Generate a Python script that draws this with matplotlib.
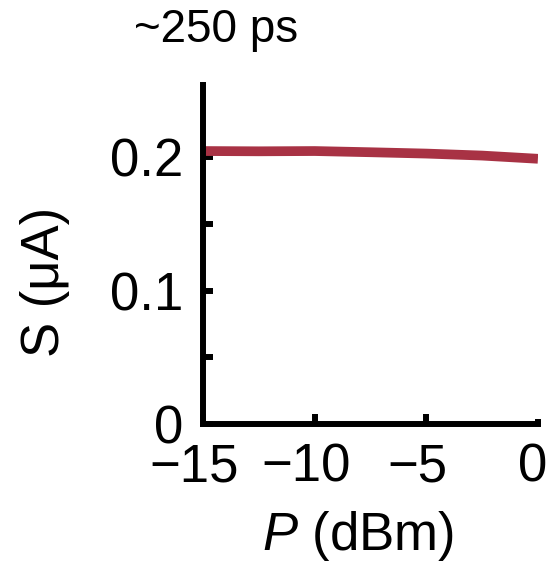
import matplotlib
matplotlib.use("Agg")
import matplotlib.pyplot as plt
from matplotlib.ticker import FixedLocator
from matplotlib.transforms import ScaledTranslation

plt.rcParams['font.family'] = ['Liberation Sans', 'DejaVu Sans']
plt.rcParams['mathtext.fontset'] = 'custom'
plt.rcParams['mathtext.it'] = 'Liberation Sans:italic'
plt.rcParams['mathtext.rm'] = 'Liberation Sans'

# Signal amplitude versus optical power for the ~250 ps pulse
power_dbm = [-15, -12.5, -10, -7.5, -5, -2.5, 0]
signal_ua = [0.2045, 0.2043, 0.2045, 0.2036, 0.2026, 0.2011, 0.1987]

x_ticks = [-15, -10, -5, 0]
x_tick_labels = ['\u221215', '\u221210', '\u22125', '0']
y_ticks = [0, 0.1, 0.2]
y_tick_labels = ['0', '0.1', '0.2']
y_minor = [0.05, 0.15]

line_color = '#A83244'

fig = plt.figure(figsize=(5.58, 5.65), dpi=100)
ax = fig.add_axes([0.364, 0.2496, 0.600, 0.600])

ax.plot(power_dbm, signal_ua, color=line_color, lw=7.0, solid_capstyle='butt')

ax.set_xlim(-15, 0)
ax.set_ylim(0, 0.254)

for side in ('top', 'right'):
    ax.spines[side].set_visible(False)
for side in ('left', 'bottom'):
    ax.spines[side].set_linewidth(4.3)
    ax.spines[side].set_capstyle('projecting')

ax.set_xticks(x_ticks)
ax.set_xticklabels(x_tick_labels)
ax.set_yticks(y_ticks)
ax.set_yticklabels(y_tick_labels)
ax.yaxis.set_minor_locator(FixedLocator(y_minor))

ax.tick_params(axis='both', which='both', direction='in', length=7.5, width=4.3,
               labelsize=38)
ax.tick_params(axis='x', pad=13)
ax.tick_params(axis='y', pad=14)
ax.xaxis.get_major_ticks()[-1].tick1line.set_markersize(3.5)

# nudge the x tick labels slightly to the left of their ticks
for lbl in ax.get_xticklabels():
    dx = -5 if lbl.get_text() == '0' else -9
    lbl.set_transform(lbl.get_transform() + ScaledTranslation(dx / 100, 0, fig.dpi_scale_trans))

ax.set_ylabel('S (\u03bcA)', fontsize=38, va='center')
ax.yaxis.set_label_coords(-0.472, 0.419)
ax.set_xlabel(r'$P$ (dBm)', fontsize=38, va='center')
ax.xaxis.set_label_coords(0.463, -0.330)

fig.text(0.387, 0.947, '~250 ps', fontsize=33, ha='center', va='center')

fig.savefig('out.png', dpi=100)
